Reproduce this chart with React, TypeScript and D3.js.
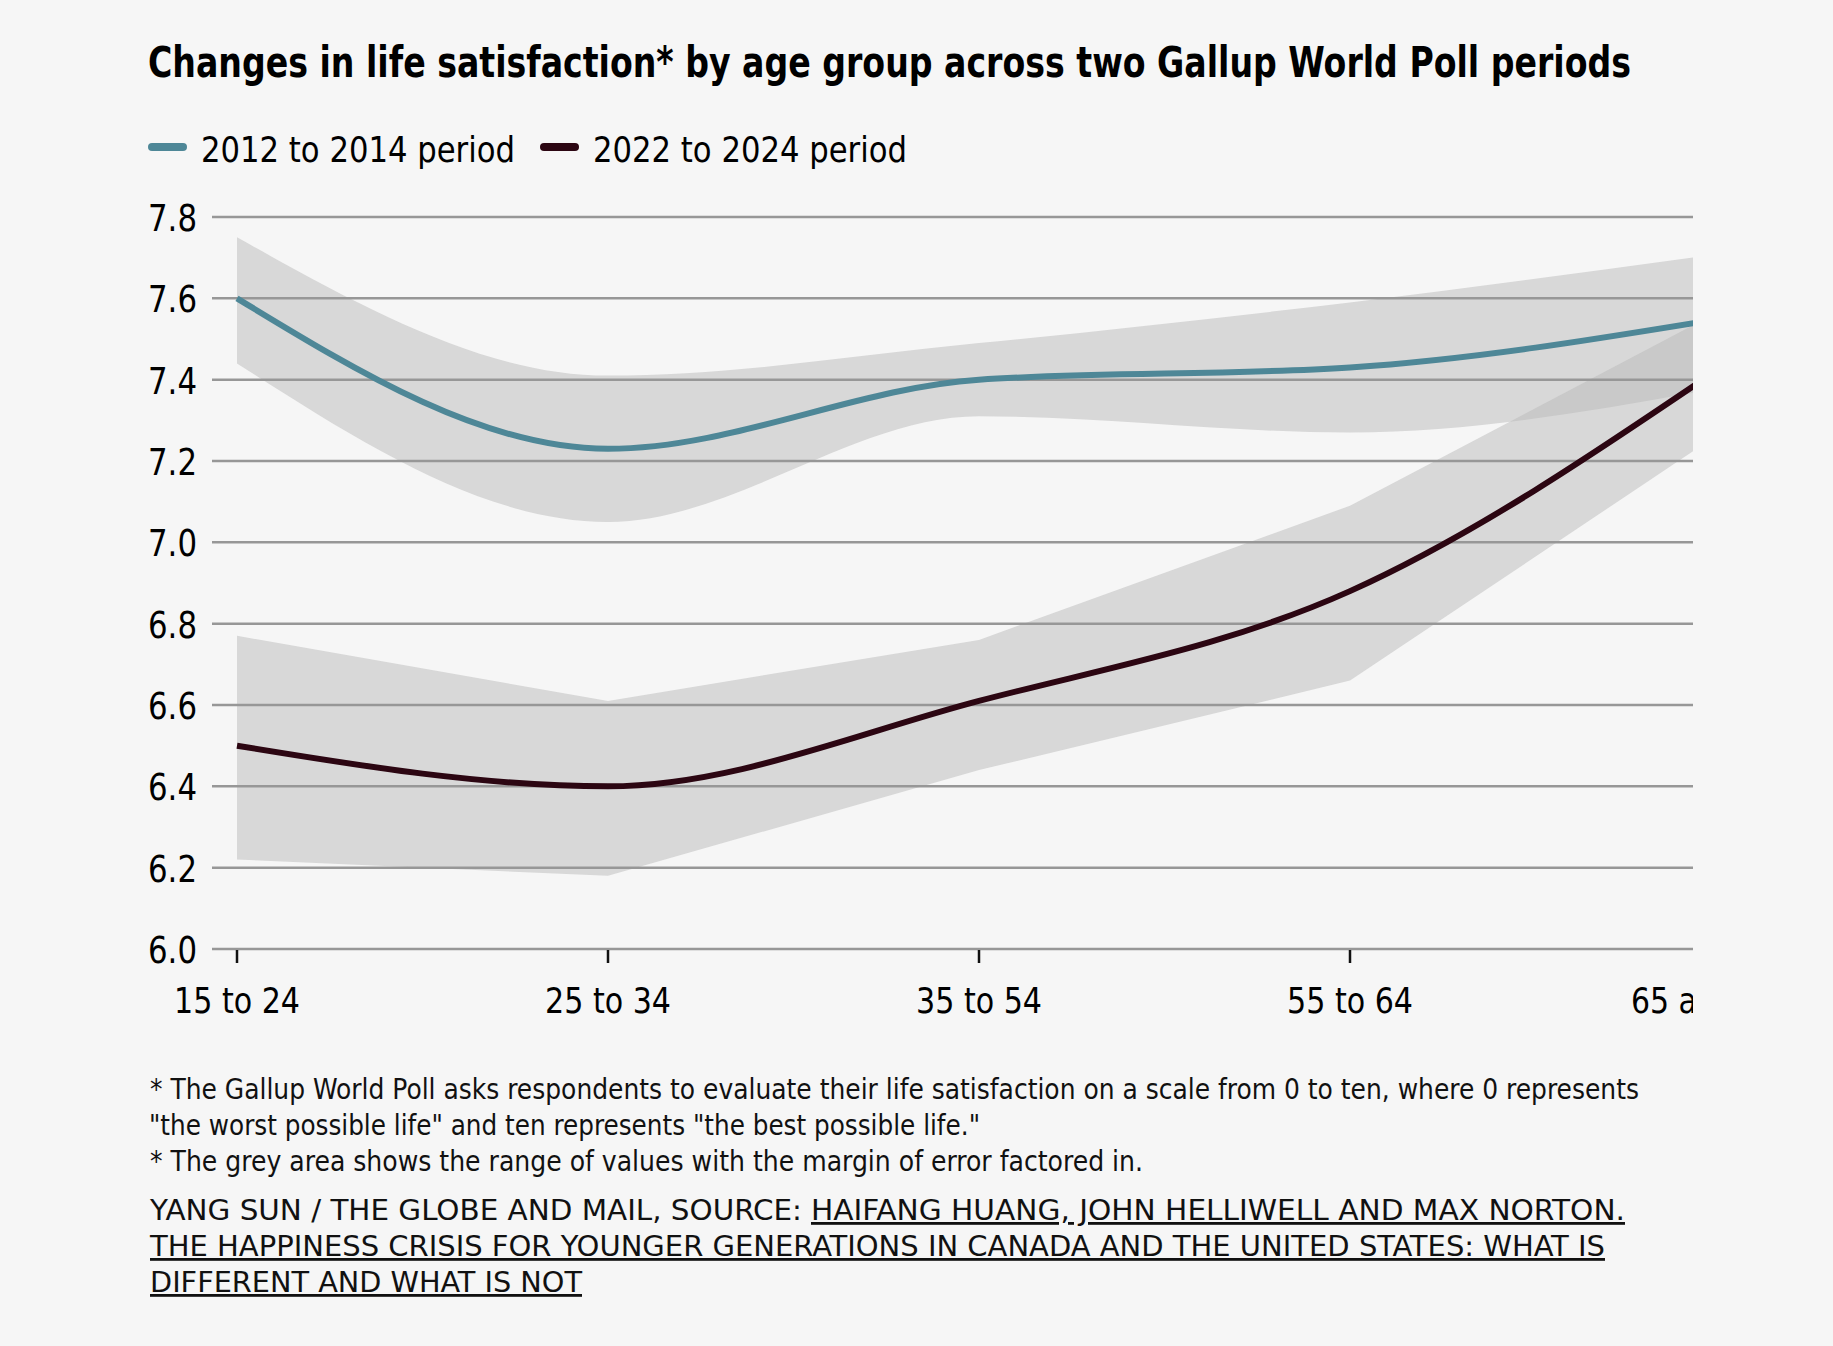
import React, { useEffect } from 'react';
import * as d3 from 'd3';

// age groups on the x axis (the last one is cut off by the plot clip, as in the original)
const ageGroups = ['15 to 24', '25 to 34', '35 to 54', '55 to 64', '65 and over'];

// 2012 to 2014 period
const early = [7.6, 7.23, 7.4, 7.43, 7.55];
const earlyLow = [7.44, 7.05, 7.31, 7.27, 7.38];
const earlyHigh = [7.75, 7.41, 7.49, 7.59, 7.71];

// 2022 to 2024 period
const late = [6.5, 6.4, 6.61, 6.88, 7.43];
const lateLow = [6.22, 6.18, 6.44, 6.66, 7.27];
const lateHigh = [6.77, 6.61, 6.76, 7.09, 7.57];

const yTicks = [6.0, 6.2, 6.4, 6.6, 6.8, 7.0, 7.2, 7.4, 7.6, 7.8];

const seriesLabels = ['2012 to 2014 period', '2022 to 2024 period'];
const seriesColors = ['#4e8797', '#2c0612'];

const W = 1833;
const H = 1346;
const BG = '#f6f6f6';
const FONT = "'Liberation Sans Narrow', 'DejaVu Sans Condensed', 'Roboto Condensed', 'DejaVu Sans', sans-serif";

const App: React.FC = () => {
  useEffect(() => {
    document.body.style.margin = '0';
    document.body.style.background = BG;
  }, []);

  const x = d3.scalePoint<string>().domain(ageGroups).range([237, 1721]);
  const y = d3.scaleLinear().domain([6, 7.8]).range([949, 217]);
  const gridLeft = 212;
  const gridRight = 1693;

  const idx = ageGroups.map((_, i) => i);
  const px = (i: number) => x(ageGroups[i]) as number;

  const earlyBand = d3.area<number>()
    .x(px)
    .y0(i => y(earlyLow[i]))
    .y1(i => y(earlyHigh[i]))
    .curve(d3.curveMonotoneX);
  const lateBand = d3.area<number>()
    .x(px)
    .y0(i => y(lateLow[i]))
    .y1(i => y(lateHigh[i]))
    .curve(d3.curveLinear);
  const lineOf = (vals: number[]) => d3.line<number>()
    .x(px)
    .y(i => y(vals[i]))
    .curve(d3.curveMonotoneX)(idx) || '';

  return (
    <svg width={W} height={H} style={{ display: 'block', position: 'absolute', left: 0, top: 0 }}
      fontFamily={FONT} fontStretch="condensed">
      <defs>
        <clipPath id="plotClip">
          <rect x={0} y={150} width={gridRight} height={H - 150} />
        </clipPath>
      </defs>
      <rect width={W} height={H} fill={BG} />

      {/* title: smaller font stretched vertically to get the tall condensed look */}
      <text transform="translate(148,77) scale(1,1.32)" x={0} y={0} fontSize={32} fontWeight="bold" fill="#000"
        textLength={1483} lengthAdjust="spacingAndGlyphs">
        Changes in life satisfaction* by age group across two Gallup World Poll periods
      </text>

      {/* legend */}
      {seriesLabels.map((lab, i) => {
        const lx = i === 0 ? 148 : 540;
        return (
          <g key={lab}>
            <line x1={lx + 4} x2={lx + 35} y1={147} y2={147} stroke={seriesColors[i]}
              strokeWidth={8} strokeLinecap="round" />
            <text x={lx + 53} y={162} fontSize={36} fill="#000"
              textLength={314} lengthAdjust="spacingAndGlyphs">{lab}</text>
          </g>
        );
      })}

      <g clipPath="url(#plotClip)">
        {/* margin of error bands */}
        <path d={earlyBand(idx) || ''} fill="#b9b9b9" fillOpacity={0.5} />
        <path d={lateBand(idx) || ''} fill="#b9b9b9" fillOpacity={0.5} />

        {/* gridlines */}
        {yTicks.map(t => (
          <line key={t} x1={gridLeft} x2={gridRight} y1={y(t)} y2={y(t)} stroke="#979797" strokeWidth={2.5} />
        ))}

        {/* series lines */}
        <path d={lineOf(early)} fill="none" stroke={seriesColors[0]} strokeWidth={6} />
        <path d={lineOf(late)} fill="none" stroke={seriesColors[1]} strokeWidth={6} />

        {/* x ticks and labels */}
        {ageGroups.map(g => (
          <g key={g}>
            <line x1={x(g)} x2={x(g)} y1={y(6) + 1} y2={y(6) + 14} stroke="#111" strokeWidth={2.5} />
            <text x={x(g)} y={1013} fontSize={36} textAnchor="middle" fill="#000"
              textLength={g.length > 8 ? 180 : 126} lengthAdjust="spacingAndGlyphs">{g}</text>
          </g>
        ))}
      </g>

      {/* y labels */}
      {yTicks.map(t => (
        <text key={t} x={197} y={y(t) + 14} fontSize={37} textAnchor="end" fill="#000"
          textLength={49} lengthAdjust="spacingAndGlyphs">{t.toFixed(1)}</text>
      ))}

      {/* notes */}
      <g fontSize={28} fill="#111">
        <text x={150} y={1099} textLength={1489} lengthAdjust="spacingAndGlyphs">
          * The Gallup World Poll asks respondents to evaluate their life satisfaction on a scale from 0 to ten, where 0 represents
        </text>
        <text x={149} y={1135} textLength={831} lengthAdjust="spacingAndGlyphs">
          "the worst possible life" and ten represents "the best possible life."
        </text>
        <text x={150} y={1171} textLength={993} lengthAdjust="spacingAndGlyphs">
          * The grey area shows the range of values with the margin of error factored in.
        </text>
      </g>

      {/* source */}
      <g fontSize={28} fill="#111">
        <text x={150} y={1220} textLength={652} lengthAdjust="spacingAndGlyphs">
          YANG SUN / THE GLOBE AND MAIL, SOURCE:
        </text>
        <text x={811} y={1220} textLength={814} lengthAdjust="spacingAndGlyphs" textDecoration="underline">
          HAIFANG HUANG, JOHN HELLIWELL AND MAX NORTON.
        </text>
        <text x={150} y={1256} textLength={1455} lengthAdjust="spacingAndGlyphs" textDecoration="underline">
          THE HAPPINESS CRISIS FOR YOUNGER GENERATIONS IN CANADA AND THE UNITED STATES: WHAT IS
        </text>
        <text x={150} y={1292} textLength={432} lengthAdjust="spacingAndGlyphs" textDecoration="underline">
          DIFFERENT AND WHAT IS NOT
        </text>
      </g>
    </svg>
  );
};

export default App;
